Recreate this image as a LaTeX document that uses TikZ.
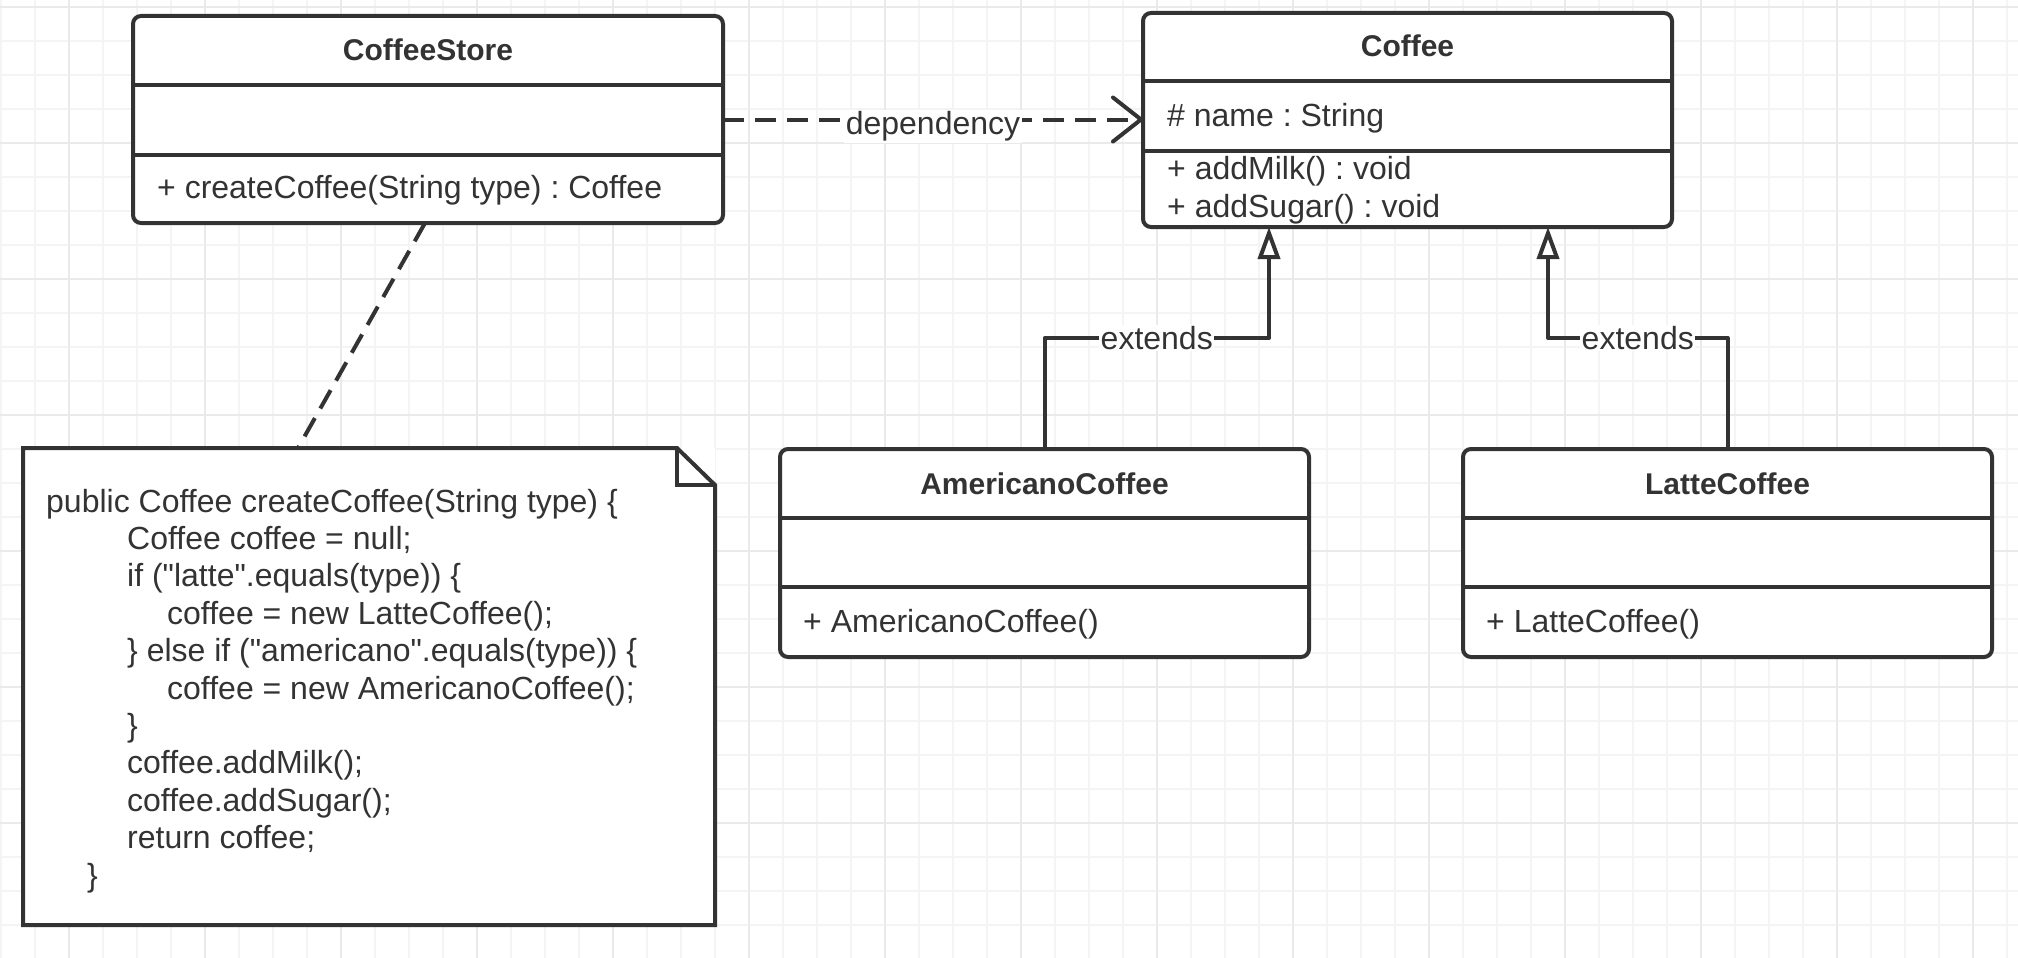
\documentclass[tikz,border=0pt]{standalone}
\usepackage{fontspec}
\setmainfont{Liberation Sans}[Ligatures=TeXOff]
\usetikzlibrary{arrows.meta,calc}
\definecolor{ink}{HTML}{333333}
\definecolor{gridminor}{HTML}{F4F4F4}
\definecolor{gridmajor}{HTML}{EAEAEA}
\newcommand{\dq}{\symbol{34}}
\begin{document}
\frenchspacing
\begin{tikzpicture}[x=1pt,y=-1pt,
  classbox/.style={draw=ink, line width=4pt, rounded corners=8pt, fill=white, anchor=north west, inner sep=0pt, outer sep=0pt},
  notebox/.style={draw=none, fill=white, anchor=north west, inner sep=0pt, outer sep=0pt},
  divider/.style={draw=ink, line width=3.4pt},
  txt/.style={text=ink, font=\fontsize{32}{37.4}\selectfont\frenchspacing, inner sep=0pt, anchor=base west},
  ttl/.style={text=ink, font=\fontsize{30}{36}\selectfont\bfseries, inner sep=0pt, anchor=base},
  conn/.style={draw=ink, line width=4pt},
  dsh/.style={dash pattern=on 21pt off 11pt},
  lbl/.style={fill=white, text=ink, font=\fontsize{32}{37}\selectfont, inner sep=1.5pt},
  gen/.style={-{Triangle[length=32pt,width=22pt,fill=white,line width=4pt]}},
  dep/.style={-{Straight Barb[length=28pt,width=44pt,line width=4pt,round]}},
]
\useasboundingbox (0,0) rectangle (2018,958);
\fill[white] (0,0) rectangle (2018,958);
% grid
\foreach \x in {1,35,...,2018} \draw[gridminor, line width=1.3pt] (\x,0) -- (\x,958);
\foreach \y in {7,41,...,958} \draw[gridminor, line width=1.3pt] (0,\y) -- (2018,\y);
\foreach \x in {69,205,...,2018} \draw[gridmajor, line width=1.3pt] (\x,0) -- (\x,958);
\foreach \y in {7,143,...,958} \draw[gridmajor, line width=1.3pt] (0,\y) -- (2018,\y);

% CoffeeStore
\node[classbox, minimum width=590pt, minimum height=207pt] (cs) at (133,16) {};
\draw[divider] (133,85) -- (723,85);
\draw[divider] (133,155) -- (723,155);
\node[ttl] (cs-title) at (428,60) {CoffeeStore};
\node[txt] (cs-m1) at (157,198) {+ createCoffee(String type) : Coffee};

% Coffee
\node[classbox, minimum width=529pt, minimum height=214pt] (coffee) at (1143,13) {};
\draw[divider] (1143,81) -- (1672,81);
\draw[divider] (1143,151) -- (1672,151);
\node[ttl] (cf-title) at (1407.5,57) {Coffee};
\node[txt] (cf-a1) at (1167,126) {\# name : String};
\node[txt] (cf-m1) at (1167,179) {+ addMilk() : void};
\node[txt] (cf-m2) at (1167,217) {+ addSugar() : void};

% AmericanoCoffee
\node[classbox, minimum width=529pt, minimum height=208pt] (am) at (780,449) {};
\draw[divider] (780,518) -- (1309,518);
\draw[divider] (780,587) -- (1309,587);
\node[ttl] (am-title) at (1044.5,494) {AmericanoCoffee};
\node[txt] (am-m1) at (803,632) {+ AmericanoCoffee()};

% LatteCoffee
\node[classbox, minimum width=529pt, minimum height=208pt] (la) at (1463,449) {};
\draw[divider] (1463,518) -- (1992,518);
\draw[divider] (1463,587) -- (1992,587);
\node[ttl] (la-title) at (1727.5,494) {LatteCoffee};
\node[txt] (la-m1) at (1486,632) {+ LatteCoffee()};

% Note
\node[notebox, minimum width=692pt, minimum height=477pt] (note) at (23,448) {};
\draw[conn, line join=miter] (note.north west) -- ($(note.north east)+(-38,0)$) -- ($(note.north east)+(0,37)$) -- (note.south east) -- (note.south west) -- cycle;
\draw[conn, line join=miter] ($(note.north east)+(-38,0)$) -- ($(note.north east)+(-38,37)$) -- ($(note.north east)+(0,37)$);
\node[txt] (note-text) at (46,512) {\parbox[t]{650pt}{\raggedright
public Coffee createCoffee(String type) \{\\
\hspace*{81pt}Coffee coffee = null;\\
\hspace*{81pt}if (\dq latte\dq.equals(type)) \{\\
\hspace*{121pt}coffee = new LatteCoffee();\\
\hspace*{81pt}\} else if (\dq americano\dq.equals(type)) \{\\
\hspace*{121pt}coffee = new AmericanoCoffee();\\
\hspace*{81pt}\}\\
\hspace*{81pt}coffee.addMilk();\\
\hspace*{81pt}coffee.addSugar();\\
\hspace*{81pt}return coffee;\\
\hspace*{41pt}\}}};

% connectors
\draw[conn, dsh] (cs.south) ++(-3,0) coordinate (cs-foot) (cs-foot) -- ($(note.north west)+(275,0)$);
\draw[conn, dsh, dep] (cs.east) -- node[lbl, anchor=base, yshift=-15pt] (dep-label) {dependency} (cs.east -| coffee.west);

\coordinate (ext1a) at (1044.5,338);
\coordinate (ext1b) at (1269,338);
\draw[conn, gen, line join=round] (am.north) -- (ext1a) -- node[lbl] (ext1-label) {extends} (ext1b) -- (ext1b |- coffee.south);

\coordinate (ext2a) at (1727.5,338);
\coordinate (ext2b) at (1548,338);
\draw[conn, gen, line join=round] (la.north) -- (ext2a) -- node[lbl] (ext2-label) {extends} (ext2b) -- (ext2b |- coffee.south);
\end{tikzpicture}
\end{document}
